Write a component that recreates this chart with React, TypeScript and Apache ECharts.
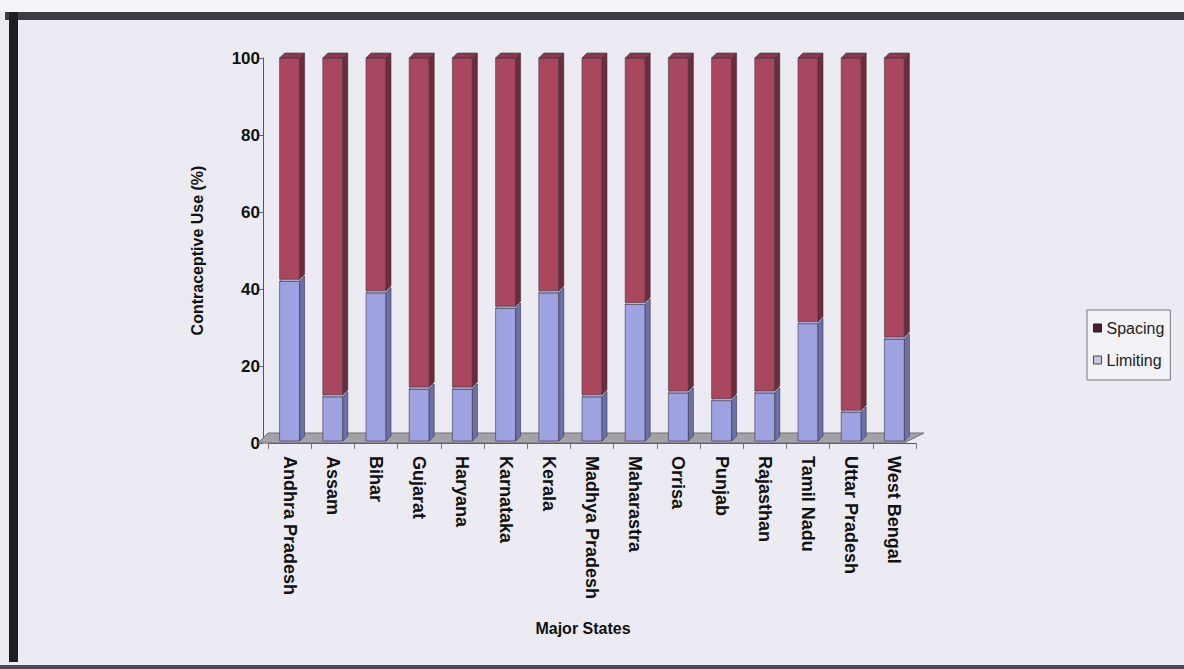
import React, { useEffect, useRef } from "react";
import * as echarts from "echarts";

const states = [
  "Andhra Pradesh", "Assam", "Bihar", "Gujarat", "Haryana", "Karnataka", "Kerala",
  "Madhya Pradesh", "Maharastra", "Orrisa", "Punjab", "Rajasthan", "Tamil Nadu",
  "Uttar Pradesh", "West Bengal",
];
const limiting = [42, 12, 39, 14, 14, 35, 39, 12, 36, 13, 11, 13, 31, 8, 27];
const spacing = [58, 88, 61, 86, 86, 65, 61, 88, 64, 87, 89, 87, 69, 92, 73];
const yTicks = [0, 20, 40, 60, 80, 100];

const BG = "#ecebf3";

function make3DBar(front: string, side: string, top: string) {
  return (params: any, api: any) => {
    const i = api.value(0);
    const lo = api.value(1);
    const hi = api.value(2);
    const pLo = api.coord([i, lo]);
    const pHi = api.coord([i, hi]);
    const bw = 20;
    const d = 5;
    const x0 = pLo[0] - bw / 2;
    const x1 = x0 + bw;
    const yb = pLo[1] - 2;
    const yt = pHi[1];
    return {
      type: "group",
      children: [
        { type: "rect", shape: { x: x0, y: yt, width: bw, height: yb - yt }, style: { fill: front, stroke: "#3c3440", lineWidth: 0.6 } },
        { type: "polygon", shape: { points: [[x1, yb], [x1 + d, yb - d], [x1 + d, yt - d], [x1, yt]] }, style: { fill: side, stroke: "#3c3440", lineWidth: 0.6 } },
        { type: "polygon", shape: { points: [[x0, yt], [x0 + d, yt - d], [x1 + d, yt - d], [x1, yt]] }, style: { fill: top, stroke: "#3c3440", lineWidth: 0.6 } },
      ],
    };
  };
}

export default function App() {
  const ref = useRef<HTMLDivElement>(null);
  useEffect(() => {
    if (!ref.current) return;
    const chart = echarts.init(ref.current, undefined, { renderer: "svg" });
    const idx = states.map((_, i) => i);
    chart.setOption({
      animation: false,
      backgroundColor: BG,
      textStyle: { fontFamily: "Arial, Liberation Sans, sans-serif" },
      graphic: [
        { type: "rect", shape: { x: 0, y: 0, width: 1184, height: 12 }, style: { fill: "#f4f3f8" }, z: 0 },
        { type: "rect", shape: { x: 5, y: 12, width: 1179, height: 8 }, style: { fill: "#3d3b44" }, z: 10 },
        { type: "rect", shape: { x: 9, y: 12, width: 9, height: 650 }, style: { fill: "#1e1d22" }, z: 10 },
        { type: "rect", shape: { x: 0, y: 665, width: 1184, height: 4 }, style: { fill: "#4a4850" }, z: 10 },
      ],
      grid: { left: 268, right: 268, top: 58, bottom: 226 },
      legend: {
        orient: "vertical",
        left: 1087,
        top: 310,
        itemWidth: 8,
        itemHeight: 8,
        itemGap: 16,
        padding: [10, 6, 12, 6],
        backgroundColor: "#f3f2f7",
        borderColor: "#777",
        borderWidth: 1,
        textStyle: { fontSize: 16, color: "#222", fontFamily: "Arial, Liberation Sans, sans-serif" },
        data: [
          { name: "Spacing", icon: "rect", itemStyle: { color: "#4a2030", borderColor: "#222", borderWidth: 1 } },
          { name: "Limiting", icon: "rect", itemStyle: { color: "#c9c9e6", borderColor: "#444", borderWidth: 1 } },
        ],
      },
      xAxis: {
        type: "category",
        data: states,
        name: "Major States",
        nameLocation: "middle",
        nameGap: 177,
        nameTextStyle: { fontSize: 16, fontWeight: "bold", color: "#111", padding: [0, 18, 0, 0] },
        axisLine: { show: true, lineStyle: { color: "#555", width: 1 } },
        axisTick: { show: true, interval: 0, length: 6, lineStyle: { color: "#777" } },
        axisLabel: { rotate: -90, interval: 0, margin: 13, fontSize: 18, fontWeight: "bold", color: "#111" },
        splitLine: { show: false },
      },
      yAxis: {
        type: "value",
        min: yTicks[0],
        max: yTicks[yTicks.length - 1],
        interval: 20,
        offset: 5,
        name: "Contraceptive Use (%)",
        nameLocation: "middle",
        nameGap: 58,
        nameTextStyle: { fontSize: 16, fontWeight: "bold", color: "#111" },
        axisLine: { show: true, lineStyle: { color: "#555", width: 1 } },
        axisTick: { show: true, length: 5, lineStyle: { color: "#666" } },
        axisLabel: { fontSize: 17, fontWeight: "bold", color: "#111", margin: 3 },
        splitLine: { show: false },
      },
      series: [
        {
          type: "custom",
          name: "floor",
          silent: true,
          data: [[0]],
          z: 1,
          renderItem: (params: any, api: any) => {
            const cs = params.coordSys;
            const x = cs.x, y = cs.y + cs.height, w = cs.width;
            return {
              type: "polygon",
              shape: { points: [[x - 10, y], [x + w - 12, y], [x + w + 8, y - 10], [x, y - 10]] },
              style: { fill: "#a3a2a8", stroke: "#6e6d73", lineWidth: 1 },
            };
          },
        },
        {
          type: "custom",
          name: "Limiting",
          itemStyle: { color: "#9ea2e0" },
          data: idx.map((i) => [i, 0, limiting[i]]),
          encode: { x: 0, y: [1, 2] },
          z: 3,
          renderItem: make3DBar("#9ea2e0", "#6c70a8", "#b8bbe8"),
        },
        {
          type: "custom",
          name: "Spacing",
          itemStyle: { color: "#a9475f" },
          data: idx.map((i) => [i, limiting[i], limiting[i] + spacing[i]]),
          encode: { x: 0, y: [1, 2] },
          z: 3,
          renderItem: make3DBar("#a9475f", "#6e2b3c", "#8a3a4e"),
        },
      ],
    });
    return () => chart.dispose();
  }, []);
  return (
    <div
      ref={ref}
      style={{ position: "fixed", left: 0, top: 0, width: 1184, height: 669 }}
    />
  );
}
